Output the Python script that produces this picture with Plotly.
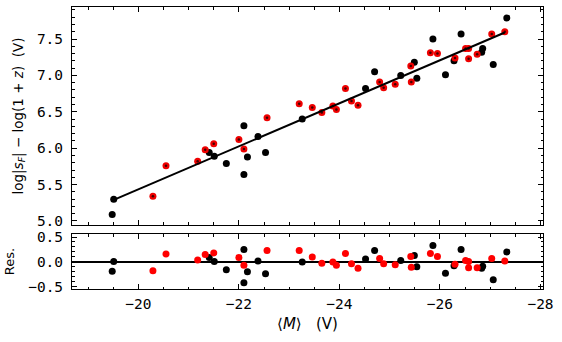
import plotly.graph_objects as go
from plotly.subplots import make_subplots

# ---- data ----
black_x = [-19.51, -19.48, -21.41, -21.51, -21.75, -22.10, -22.17, -22.10, -22.38, -22.53, -23.26,
           -24.52, -24.70, -25.22, -25.49, -25.54, -25.86, -26.11, -26.28, -26.42, -26.85, -26.83,
           -27.06, -27.33]
black_y = [5.30, 5.09, 5.94, 5.89, 5.79, 6.31, 5.88, 5.64, 6.16, 5.94, 6.40,
           6.82, 7.05, 7.00, 7.18, 6.96, 7.50, 7.01, 7.20, 7.57, 7.37, 7.32,
           7.15, 7.79]
black_res = [0.01, -0.19, 0.09, 0.01, -0.16, 0.25, -0.20, -0.42, 0.02, -0.24, 0.00,
             0.06, 0.23, 0.03, 0.13, -0.10, 0.33, -0.23, -0.08, 0.25, -0.09, -0.13,
             -0.36, 0.20]

red_x = [-20.29, -20.55, -21.18, -21.33, -21.50, -22.00, -22.10, -22.56, -23.20, -23.46,
         -23.65, -23.87, -23.94, -24.12, -24.24, -24.37, -24.80, -24.88, -25.11, -25.42,
         -25.43, -25.81, -25.95, -26.30, -26.51, -26.57, -26.57, -26.74, -27.03, -27.29]
red_y = [5.34, 5.76, 5.82, 5.98, 6.06, 6.12, 5.99, 6.42, 6.61, 6.56,
         6.49, 6.58, 6.53, 6.82, 6.65, 6.59, 6.91, 6.83, 6.88, 7.13,
         6.91, 7.31, 7.30, 7.24, 7.37, 7.37, 7.23, 7.29, 7.57, 7.60]
red_res = [-0.18, 0.16, 0.04, 0.15, 0.18, 0.09, -0.07, 0.23, 0.23, 0.10,
           -0.03, 0.00, -0.07, 0.17, -0.04, -0.13, 0.07, -0.04, -0.06, 0.11,
           -0.11, 0.17, 0.11, -0.05, 0.03, 0.01, -0.12, -0.12, 0.07, 0.02]

fit_x = [-19.51, -27.29]
fit_y = [5.29, 7.59]

zero_x = [-18.68, -28.05]
zero_y = [0.0, 0.0]

top_ticks = [5.0, 5.5, 6.0, 6.5, 7.0, 7.5]
res_ticks = [-0.5, 0.0, 0.5]
res_ticktext = ["−0.5", "0.0", "0.5"]
x_ticks = [-20, -22, -24, -26, -28]

# ---- figure ----
fig = make_subplots(rows=2, cols=1, shared_xaxes=False, vertical_spacing=0.0)

MS = 7
fig.add_trace(go.Scatter(x=black_x, y=black_y, mode="markers",
                         marker=dict(color="black", size=MS, line=dict(width=0))), row=1, col=1)
fig.add_trace(go.Scatter(x=red_x, y=red_y, mode="markers",
                         marker=dict(color="#ee0000", size=MS, line=dict(width=0))), row=1, col=1)
fig.add_trace(go.Scatter(x=red_x, y=red_y, mode="markers",
                         marker=dict(color="#400000", size=2.5, line=dict(width=0))), row=1, col=1)
fig.add_trace(go.Scatter(x=fit_x, y=fit_y, mode="lines",
                         line=dict(color="black", width=2)), row=1, col=1)

fig.add_trace(go.Scatter(x=zero_x, y=zero_y, mode="lines",
                         line=dict(color="black", width=2)), row=2, col=1)
fig.add_trace(go.Scatter(x=black_x, y=black_res, mode="markers",
                         marker=dict(color="black", size=MS, line=dict(width=0))), row=2, col=1)
fig.add_trace(go.Scatter(x=red_x, y=red_res, mode="markers",
                         marker=dict(color="#ff0000", size=MS, line=dict(width=0))), row=2, col=1)

tickfont = dict(family="DejaVu Sans Mono", size=14.5, color="black")
axis_common = dict(showgrid=False, zeroline=False, showline=True, linecolor="black",
                   linewidth=1, mirror="ticks", ticks="inside", ticklen=5, tickwidth=1,
                   tickcolor="black", tickfont=tickfont, automargin=True)

xrange_ = [-18.68, -28.05]
fig.update_xaxes(**axis_common, range=xrange_, tickmode="array", tickvals=x_ticks,
                 minor=dict(ticks="inside", ticklen=2.5, tickcolor="black", dtick=0.5, tick0=0,
                            showgrid=False))
fig.update_xaxes(showticklabels=False, row=1, col=1)
fig.update_xaxes(showticklabels=True, row=2, col=1, ticklabelstandoff=2,
                 title=dict(text="⟨<i>M</i>⟩   (V)", standoff=7,
                            font=dict(family="DejaVu Sans", size=15, color="black")))

fig.update_yaxes(**axis_common, ticklabelstandoff=5)
fig.update_yaxes(row=1, col=1, range=[4.945, 7.94], tickmode="array", tickvals=top_ticks,
                 ticktext=[f"{v:.1f}" for v in top_ticks],
                 minor=dict(ticks="inside", ticklen=2.5, tickcolor="black", dtick=0.1, tick0=0,
                            showgrid=False),
                 title=dict(text="log|<i>s</i><sub><i>F</i></sub>| − log(1 + <i>z</i>)  (V)",
                            standoff=10,
                            font=dict(family="DejaVu Sans", size=13.5, color="black")))
fig.update_yaxes(row=2, col=1, range=[-0.545, 0.56], tickmode="array", tickvals=res_ticks,
                 ticktext=res_ticktext,
                 minor=dict(ticks="inside", ticklen=2.5, tickcolor="black", dtick=0.1, tick0=0,
                            showgrid=False),
                 title=dict(text="Res.", standoff=10,
                            font=dict(family="DejaVu Sans", size=13, color="black")))

fig.update_layout(
    width=562, height=342,
    margin=dict(l=72, r=19, t=7, b=53, autoexpand=False),
    paper_bgcolor="white", plot_bgcolor="white",
    showlegend=False,
)
fig.layout.yaxis.domain = [0.227, 1.0]
fig.layout.yaxis2.domain = [0.0, 0.195]

fig.write_html("out.html", config={"displayModeBar": False},
               post_script="document.body.style.margin='0px';")
